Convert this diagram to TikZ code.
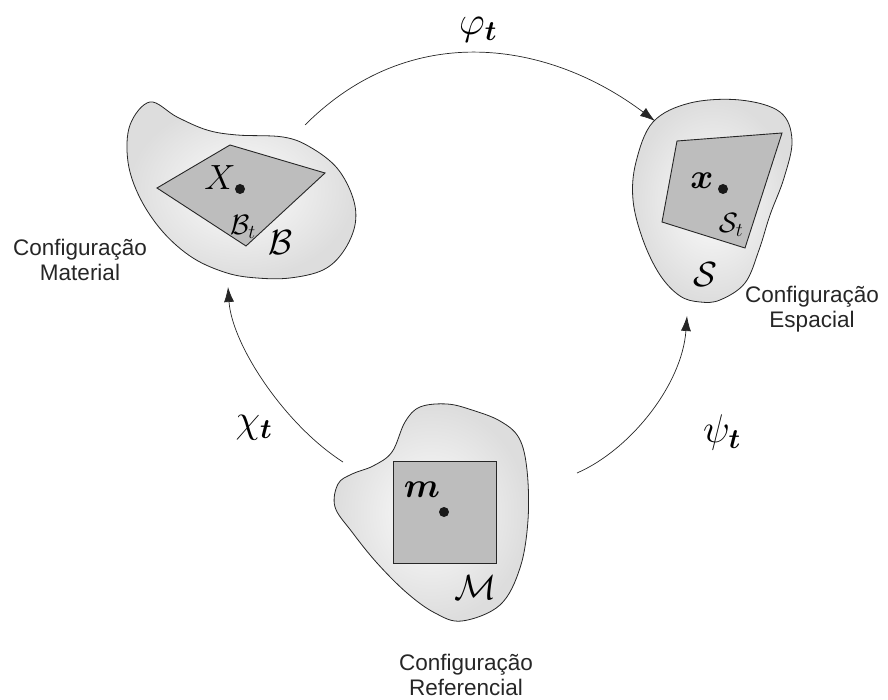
\RequirePackage{fix-cm}
\documentclass[tikz,border=0pt]{standalone}
\usepackage{amsmath,bm}
\usepackage{fontspec}
\setsansfont{Liberation Sans}
\usetikzlibrary{arrows.meta}
\begin{document}
\begin{tikzpicture}[x=1pt,y=-1pt,
  blob/.style={draw=black!85,line width=0.8pt,inner color=gray!2,outer color=gray!27},
  region/.style={draw=black!85,line width=0.9pt,fill=black!26},
  pt/.style={circle,fill=black!90,inner sep=0pt,minimum size=10pt},
  mapping/.style={draw=black!85,line width=0.7pt,-{Latex[length=15pt,width=10pt]}},
  maplabel/.style={font=\fontsize{40}{42}\selectfont},
  symlabel/.style={font=\fontsize{35}{37}\selectfont,inner sep=0pt},
  sublabel/.style={font=\fontsize{28}{30}\selectfont,inner sep=0pt},
  conf/.style={font=\sffamily\fontsize{22.5}{25}\selectfont,align=center,text=black!85}]
\useasboundingbox (0,0) rectangle (888,700);

% Material configuration B
\shadedraw[blob] plot[smooth cycle,tension=0.6] coordinates {
 (150,102) (177,117) (207,130) (237,135) (283,137) (310,147) (337,168) (353,198)
 (355,225) (343,252) (323,270) (290,278) (257,278) (227,273) (193,258) (163,232)
 (140,198) (128,162) (130,125)};
\draw[region] (230,145) -- (325,173) -- (246,246) -- (157,188) -- cycle;
\node[pt] (dX) at (240,189) {};
\node[symlabel] (X) at (220,178) {$X$};
\node[sublabel] (Bt) at (243,227) {$\mathcal{B}_t$};
\node[symlabel] (B) at (281,243) {$\mathcal{B}$};

% Spatial configuration S
\shadedraw[blob] plot[smooth cycle,tension=0.6] coordinates {
 (653,122) (690,103) (740,100) (780,112) (792,140) (784,178) (770,215) (759,250)
 (745,283) (720,300) (700,302) (680,296) (660,275) (643,240) (633,200) (636,162)};
\draw[region] (677,141) -- (782,133) -- (745,248) -- (662,222) -- cycle;
\node[pt] (dx) at (723,189) {};
\node[symlabel] (x) at (702,181) {$\bm{x}$};
\node[sublabel] (St) at (731,225) {$\mathcal{S}_t$};
\node[symlabel] (S) at (705,275) {$\mathcal{S}$};

% Reference configuration M
\shadedraw[blob] plot[smooth cycle,tension=0.6] coordinates {
 (405,422) (420,407) (447,404) (472,410) (500,421) (519,438) (527,470) (528,520)
 (520,568) (500,605) (462,621) (435,613) (407,593) (377,563) (352,532) (335,507)
 (338,484) (352,474) (373,466) (392,452)};
\draw[region] (393,461) rectangle (496,563);
\node[pt] (dm) at (444,512) {};
\node[symlabel] (m) at (422,490) {$\bm{m}$};
\node[symlabel] (M) at (476,588) {$\mathcal{M}$};

% mappings
\coordinate (p0) at (305,125);
\coordinate (p1) at (655,121);
\coordinate (c0) at (343,462);
\coordinate (c1) at (228,287);
\coordinate (s0) at (577,473);
\coordinate (s1) at (687,316);
\draw[mapping] (p0) .. controls (412,18) and (550,42) .. (p1);
\draw[mapping] (c0) .. controls (285,425) and (232,345) .. (c1);
\draw[mapping] (s0) .. controls (630,450) and (682,385) .. (s1);

\node[maplabel] (phi) at (478,30) {$\varphi_{\bm t}$};
\node[maplabel] (chi) at (254,428) {$\chi_{\bm t}$};
\node[maplabel] (psi) at (722,432) {$\psi_{\bm t}$};

% captions
\node[conf] (cm) at (80,260) {Configuração\\Material};
\node[conf] (cs) at (812,309) {Configuração\\Espacial};
\node[conf] (cr) at (466,675) {Configuração\\Referencial};
\end{tikzpicture}
\end{document}
